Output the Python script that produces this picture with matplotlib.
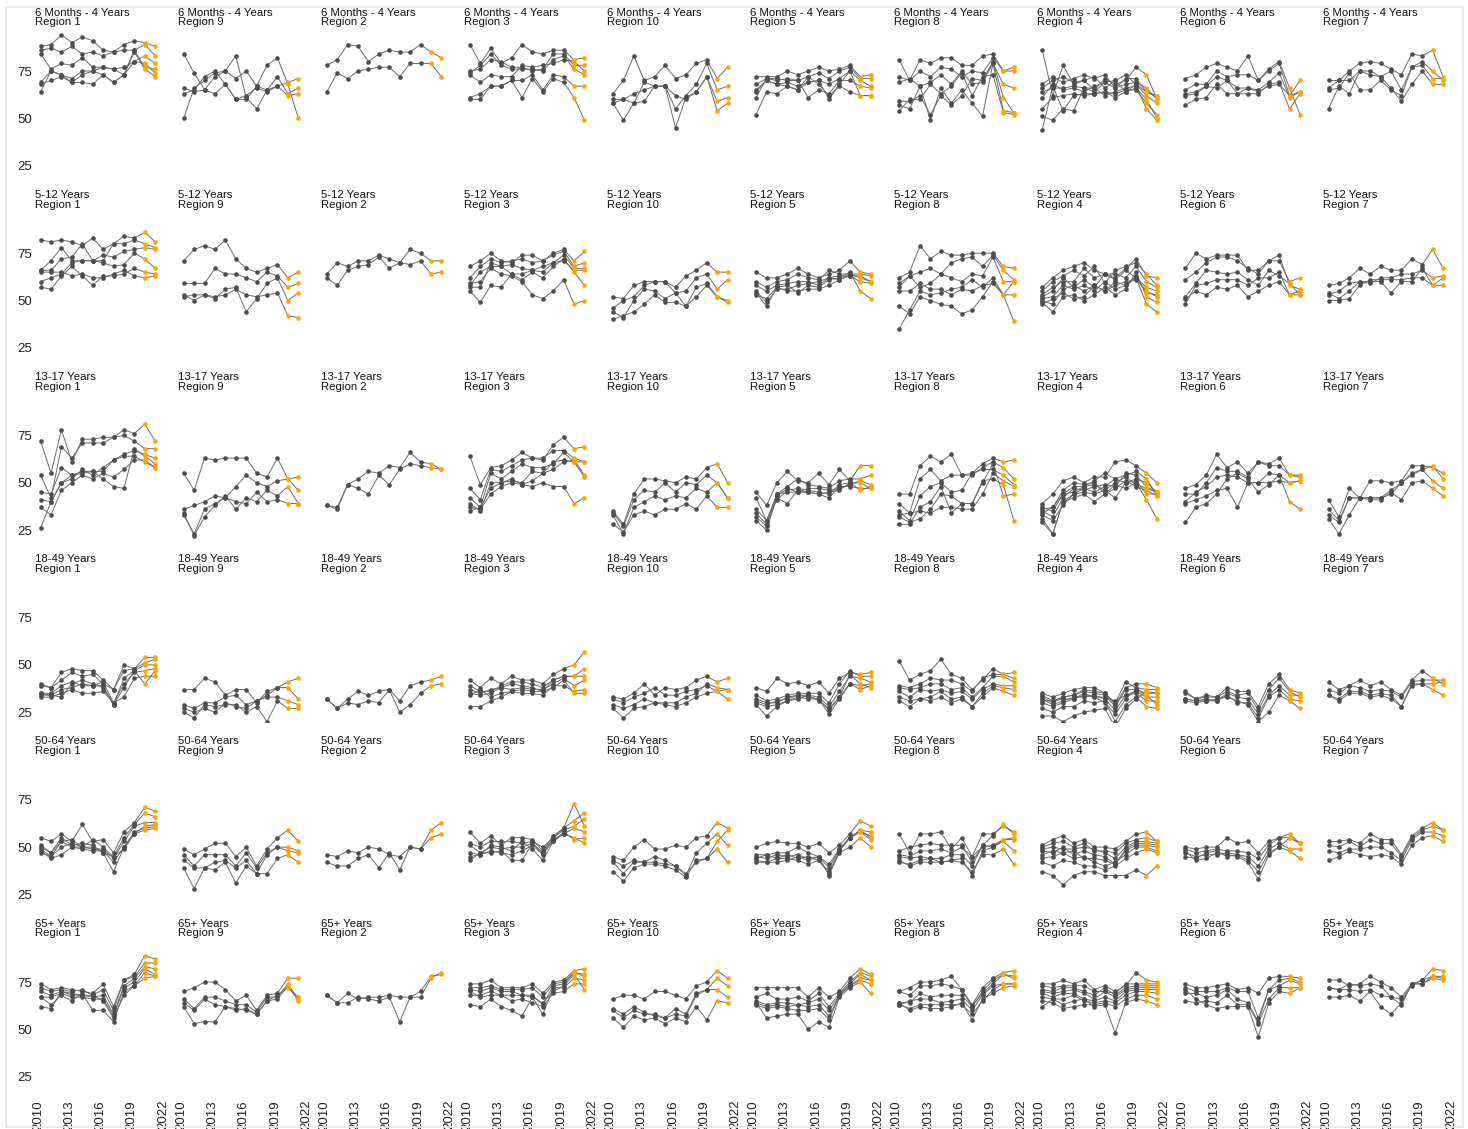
import matplotlib
matplotlib.use("Agg")
import matplotlib.pyplot as plt
from matplotlib.patches import Rectangle
import numpy as np

plt.rcParams['font.family'] = ['Liberation Sans', 'DejaVu Sans']

# flu vaccination coverage (%) by season, one list per state, 2010-11 .. 2021-22
seasons = list(range(2010, 2022))
regions = ["Region 1", "Region 9", "Region 2", "Region 3", "Region 10",
           "Region 5", "Region 8", "Region 4", "Region 6", "Region 7"]
age_groups = ["6 Months - 4 Years", "5-12 Years", "13-17 Years",
              "18-49 Years", "50-64 Years", "65+ Years"]
n_current = 2  # last seasons drawn in orange

cov_6mo_4y = {
    "Region 1": [[88, 89, 94, 90, 93, 91, 86, 85, 89, 91, 90, 88],
                 [86, 87, 85, 88, 84, 85, 83, 85, 86, 86, 89, 83],
                 [84, 76, 79, 78, 82, 77, 77, 76, 77, 80, 83, 79],
                 [69, 75, 73, 71, 75, 75, 73, 69, 73, 80, 79, 74],
                 [64, 75, 73, 69, 73, 75, 77, 76, 73, 86, 77, 76],
                 [68, 70, 72, 69, 69, 68, 73, 69, 73, 85, 76, 72]],
    "Region 9": [[50, 66, 70, 74, 75, 71, 75, 67, 78, 82, 68, 50],
                 [84, 74, 65, 72, 75, 83, 61, 55, 65, 72, 63, 66],
                 [63, 65, 72, 75, 68, 60, 60, 67, 65, 67, 62, 63],
                 [66, 64, 65, 63, 68, 60, 62, 66, 64, 67, 69, 71]],
    "Region 2": [[78, 81, 89, 88, 80, 84, 86, 85, 85, 89, 85, 82],
                 [64, 74, 71, 75, 76, 77, 77, 72, 79, 79, 79, 72]],
    "Region 3": [[89, 79, 87, 79, 82, 89, 85, 84, 86, 86, 81, 82],
                 [75, 76, 81, 80, 77, 77, 75, 76, 84, 84, 78, 78],
                 [74, 78, 84, 78, 76, 76, 76, 75, 81, 83, 76, 73],
                 [73, 69, 73, 72, 72, 78, 77, 78, 79, 81, 80, 75],
                 [61, 63, 67, 67, 70, 61, 71, 64, 71, 69, 61, 49],
                 [60, 60, 67, 67, 70, 70, 73, 65, 73, 72, 67, 67]],
    "Region 10": [[63, 70, 83, 70, 72, 78, 71, 73, 79, 81, 71, 77],
                  [60, 60, 63, 65, 67, 67, 55, 62, 68, 79, 65, 67],
                  [58, 49, 58, 69, 67, 67, 45, 61, 64, 72, 59, 61],
                  [58, 60, 58, 59, 67, 67, 62, 60, 64, 72, 54, 58]],
    "Region 5": [[72, 72, 72, 75, 73, 75, 77, 75, 76, 78, 72, 73],
                 [68, 71, 70, 71, 70, 72, 74, 71, 75, 77, 71, 71],
                 [65, 70, 68, 69, 67, 69, 70, 68, 71, 75, 70, 67],
                 [61, 71, 71, 70, 70, 61, 65, 63, 70, 70, 67, 66],
                 [52, 64, 63, 67, 65, 69, 70, 60, 68, 75, 62, 62],
                 [64, 70, 68, 67, 65, 72, 68, 62, 67, 64, 62, 62]],
    "Region 8": [[81, 70, 81, 79, 82, 82, 78, 78, 83, 84, 75, 77],
                 [72, 70, 75, 72, 77, 76, 72, 75, 74, 82, 75, 75],
                 [69, 71, 67, 69, 73, 68, 75, 68, 69, 79, 68, 66],
                 [59, 59, 62, 52, 62, 57, 62, 71, 70, 80, 61, 53],
                 [57, 55, 67, 49, 66, 58, 65, 58, 51, 79, 54, 53],
                 [54, 60, 60, 68, 63, 67, 74, 62, 72, 73, 53, 52]],
    "Region 4": [[86, 62, 78, 68, 70, 65, 71, 68, 70, 77, 73, 60],
                 [68, 72, 69, 71, 73, 71, 73, 66, 71, 71, 64, 61],
                 [66, 70, 72, 69, 70, 72, 66, 70, 73, 68, 64, 62],
                 [64, 66, 66, 67, 66, 64, 69, 66, 68, 69, 66, 60],
                 [61, 68, 65, 66, 64, 67, 69, 70, 64, 68, 62, 58],
                 [55, 61, 62, 63, 62, 63, 64, 63, 65, 65, 58, 52],
                 [51, 49, 55, 54, 66, 66, 62, 64, 66, 67, 55, 49],
                 [44, 67, 54, 62, 63, 63, 64, 61, 64, 66, 60, 50]],
    "Region 6": [[71, 73, 77, 79, 77, 75, 83, 70, 76, 80, 66, 52],
                 [65, 68, 68, 75, 72, 73, 73, 70, 75, 79, 62, 70],
                 [62, 63, 67, 72, 70, 66, 66, 65, 69, 74, 61, 64],
                 [57, 60, 61, 68, 63, 63, 63, 63, 68, 69, 55, 63],
                 [63, 64, 67, 66, 70, 63, 66, 64, 67, 68, 62, 64]],
    "Region 7": [[70, 70, 75, 79, 80, 79, 76, 73, 84, 83, 86, 72],
                 [66, 70, 70, 75, 75, 72, 75, 65, 77, 80, 75, 70],
                 [65, 66, 74, 65, 65, 70, 65, 62, 77, 78, 71, 71],
                 [55, 67, 63, 75, 73, 72, 66, 59, 68, 75, 68, 68]],
}

cov_5_12 = {
    "Region 1": [[82, 81, 82, 81, 79, 83, 77, 80, 84, 83, 86, 81],
                 [66, 66, 72, 73, 80, 71, 71, 80, 80, 82, 80, 78],
                 [66, 71, 78, 71, 71, 71, 74, 73, 76, 77, 78, 77],
                 [60, 62, 64, 70, 71, 71, 70, 68, 69, 75, 72, 67],
                 [57, 56, 63, 68, 63, 58, 63, 63, 64, 67, 65, 64],
                 [65, 65, 65, 63, 64, 62, 62, 64, 66, 63, 62, 63]],
    "Region 9": [[71, 77, 79, 77, 82, 72, 67, 65, 67, 69, 62, 65],
                 [59, 59, 59, 67, 64, 64, 62, 60, 65, 63, 57, 59],
                 [53, 50, 53, 51, 56, 57, 44, 51, 59, 62, 50, 54],
                 [52, 53, 53, 52, 53, 56, 53, 52, 53, 54, 42, 41]],
    "Region 2": [[64, 70, 68, 71, 71, 74, 72, 70, 77, 75, 71, 71],
                 [62, 58, 66, 68, 69, 73, 67, 70, 69, 71, 64, 65]],
    "Region 3": [[68, 71, 75, 71, 70, 74, 74, 71, 75, 77, 71, 76],
                 [62, 68, 72, 70, 71, 72, 70, 71, 74, 76, 68, 70],
                 [58, 65, 68, 68, 69, 67, 66, 68, 70, 74, 67, 67],
                 [57, 57, 70, 68, 64, 64, 66, 65, 70, 71, 66, 66],
                 [55, 49, 58, 57, 64, 61, 65, 62, 68, 72, 65, 58],
                 [59, 60, 67, 64, 63, 60, 53, 51, 55, 61, 48, 50]],
    "Region 10": [[52, 51, 58, 60, 60, 60, 57, 63, 66, 70, 65, 65],
                  [46, 50, 52, 58, 60, 60, 54, 55, 62, 64, 56, 61],
                  [44, 41, 50, 56, 55, 51, 54, 47, 57, 59, 52, 50],
                  [40, 42, 44, 48, 53, 49, 49, 47, 52, 58, 52, 49]],
    "Region 5": [[65, 62, 62, 64, 67, 64, 62, 64, 66, 71, 65, 64],
                 [60, 57, 60, 61, 64, 62, 61, 66, 64, 64, 64, 63],
                 [58, 55, 58, 59, 60, 60, 58, 62, 63, 63, 63, 60],
                 [55, 49, 56, 56, 58, 59, 60, 62, 61, 64, 62, 60],
                 [53, 51, 57, 55, 55, 56, 56, 58, 61, 63, 60, 59],
                 [54, 47, 57, 58, 54, 58, 57, 61, 62, 65, 55, 51]],
    "Region 8": [[62, 65, 79, 72, 76, 74, 74, 75, 75, 75, 68, 67],
                 [59, 63, 65, 67, 64, 70, 72, 73, 68, 74, 66, 61],
                 [57, 63, 57, 59, 64, 62, 60, 64, 63, 73, 60, 60],
                 [55, 55, 59, 56, 56, 53, 56, 55, 58, 59, 53, 60],
                 [47, 43, 52, 50, 48, 47, 43, 45, 52, 60, 53, 39],
                 [35, 45, 55, 53, 54, 56, 57, 61, 57, 62, 53, 53]],
    "Region 4": [[57, 62, 66, 68, 70, 66, 64, 62, 67, 72, 63, 62],
                 [55, 60, 63, 66, 63, 68, 59, 66, 68, 70, 64, 58],
                 [53, 57, 60, 60, 67, 62, 64, 64, 62, 68, 60, 57],
                 [52, 55, 62, 57, 61, 57, 64, 61, 66, 62, 57, 55],
                 [51, 52, 58, 56, 58, 55, 60, 56, 58, 63, 54, 53],
                 [50, 48, 56, 58, 55, 58, 55, 58, 60, 61, 55, 52],
                 [49, 44, 52, 53, 50, 53, 57, 53, 56, 65, 52, 49],
                 [48, 51, 54, 51, 52, 58, 55, 60, 58, 62, 48, 44]],
    "Region 6": [[67, 75, 72, 74, 74, 74, 66, 66, 71, 71, 60, 62],
                 [61, 65, 70, 73, 73, 71, 67, 64, 71, 74, 58, 56],
                 [52, 59, 66, 65, 64, 65, 61, 58, 66, 63, 59, 53],
                 [48, 58, 59, 61, 61, 61, 58, 62, 62, 65, 53, 53],
                 [51, 55, 53, 57, 56, 58, 52, 55, 58, 60, 53, 55]],
    "Region 7": [[58, 59, 62, 67, 64, 68, 66, 66, 72, 69, 77, 67],
                 [53, 55, 59, 60, 59, 62, 62, 64, 64, 66, 62, 63],
                 [54, 51, 55, 60, 60, 60, 54, 60, 60, 67, 58, 62],
                 [50, 50, 51, 58, 61, 61, 61, 61, 62, 62, 58, 58]],
}

cov_13_17 = {
    "Region 1": [[72, 55, 78, 61, 73, 73, 74, 74, 78, 76, 81, 72],
                 [54, 42, 69, 63, 71, 71, 71, 74, 75, 72, 68, 68],
                 [45, 44, 58, 54, 56, 56, 56, 62, 65, 67, 65, 63],
                 [41, 40, 50, 54, 55, 56, 52, 48, 47, 68, 64, 60],
                 [37, 33, 46, 50, 54, 52, 55, 53, 57, 62, 62, 58],
                 [26, 40, 50, 52, 57, 54, 58, 62, 64, 64, 61, 58]],
    "Region 9": [[55, 46, 63, 62, 63, 63, 63, 55, 53, 63, 52, 53],
                 [36, 38, 40, 43, 42, 48, 54, 50, 48, 51, 52, 46],
                 [34, 22, 32, 38, 43, 36, 42, 40, 46, 43, 48, 39],
                 [33, 23, 36, 39, 42, 40, 39, 45, 40, 41, 39, 39]],
    "Region 2": [[38, 37, 49, 52, 56, 55, 59, 58, 66, 61, 60, 57],
                 [38, 36, 49, 47, 44, 54, 49, 57, 60, 59, 58, 57]],
    "Region 3": [[64, 49, 58, 59, 62, 66, 63, 62, 70, 74, 68, 69],
                 [47, 41, 57, 56, 59, 62, 63, 63, 67, 67, 63, 61],
                 [42, 37, 55, 52, 56, 60, 58, 58, 60, 66, 61, 61],
                 [39, 35, 50, 50, 51, 50, 56, 55, 57, 61, 62, 54],
                 [37, 36, 44, 48, 50, 49, 51, 55, 61, 62, 61, 53],
                 [35, 37, 47, 50, 52, 49, 48, 50, 48, 48, 39, 42]],
    "Region 10": [[35, 28, 44, 52, 52, 51, 50, 53, 52, 58, 60, 50],
                  [34, 27, 41, 46, 45, 50, 45, 50, 49, 54, 50, 42],
                  [33, 23, 37, 40, 43, 41, 43, 42, 47, 45, 50, 42],
                  [28, 24, 33, 35, 33, 36, 36, 39, 36, 43, 37, 37]],
    "Region 5": [[45, 38, 50, 56, 51, 50, 55, 49, 57, 51, 59, 59],
                 [42, 30, 44, 48, 52, 49, 48, 47, 51, 52, 52, 54],
                 [36, 30, 41, 46, 47, 46, 45, 44, 49, 50, 50, 47],
                 [34, 28, 44, 45, 45, 47, 47, 46, 47, 49, 51, 49],
                 [32, 27, 42, 39, 46, 45, 44, 42, 48, 48, 47, 47],
                 [30, 25, 43, 47, 45, 45, 44, 45, 46, 50, 46, 48]],
    "Region 8": [[44, 44, 59, 64, 61, 65, 54, 55, 60, 63, 61, 62],
                 [39, 34, 52, 57, 51, 54, 54, 54, 58, 61, 58, 52],
                 [35, 30, 43, 48, 50, 45, 46, 55, 57, 57, 54, 49],
                 [32, 29, 31, 36, 44, 43, 39, 39, 50, 60, 43, 44],
                 [28, 28, 37, 40, 48, 34, 39, 39, 51, 52, 49, 30],
                 [33, 34, 35, 34, 37, 37, 36, 36, 44, 55, 51, 48]],
    "Region 4": [[39, 44, 51, 53, 50, 53, 53, 61, 62, 59, 55, 50],
                 [37, 35, 44, 48, 48, 51, 55, 52, 54, 56, 52, 43],
                 [35, 32, 42, 47, 46, 48, 49, 48, 55, 54, 48, 45],
                 [33, 30, 38, 44, 45, 44, 46, 42, 50, 51, 44, 44],
                 [31, 23, 40, 42, 44, 40, 44, 49, 47, 50, 41, 31],
                 [36, 37, 46, 50, 49, 50, 44, 47, 51, 48, 46, 43],
                 [29, 23, 40, 44, 47, 45, 48, 52, 50, 52, 50, 45],
                 [34, 37, 44, 45, 48, 49, 46, 50, 53, 49, 47, 45]],
    "Region 6": [[47, 49, 54, 65, 58, 61, 55, 61, 60, 63, 54, 54],
                 [44, 44, 50, 58, 56, 56, 53, 61, 59, 59, 54, 53],
                 [40, 45, 48, 53, 54, 53, 50, 50, 50, 51, 50, 51],
                 [39, 41, 43, 46, 47, 37, 50, 50, 55, 54, 50, 51],
                 [29, 37, 39, 44, 52, 55, 52, 45, 49, 54, 40, 36]],
    "Region 7": [[41, 32, 47, 42, 51, 51, 50, 51, 59, 59, 58, 55],
                 [36, 30, 42, 42, 42, 42, 44, 50, 55, 57, 59, 52],
                 [33, 29, 42, 42, 42, 42, 46, 50, 54, 57, 51, 47],
                 [31, 23, 33, 42, 41, 41, 45, 41, 50, 51, 47, 43]],
}

cov_18_49 = {
    "Region 1": [[40, 38, 46, 48, 47, 47, 42, 37, 50, 48, 54, 54],
                 [39, 38, 42, 46, 44, 45, 40, 37, 47, 48, 51, 53],
                 [35, 35, 39, 41, 39, 39, 39, 29, 43, 47, 50, 50],
                 [34, 34, 37, 38, 40, 39, 41, 30, 40, 46, 47, 48],
                 [33, 33, 35, 37, 35, 35, 36, 30, 33, 43, 44, 44],
                 [35, 34, 33, 40, 42, 40, 38, 29, 38, 47, 40, 47]],
    "Region 9": [[37, 37, 43, 41, 34, 37, 37, 30, 36, 38, 41, 43],
                 [29, 27, 30, 30, 33, 34, 29, 31, 34, 38, 38, 32],
                 [27, 25, 27, 25, 30, 28, 27, 31, 33, 33, 31, 29],
                 [25, 22, 29, 28, 29, 29, 25, 28, 20, 31, 27, 27]],
    "Region 2": [[32, 27, 32, 36, 34, 36, 37, 31, 39, 41, 42, 44],
                 [32, 27, 30, 29, 31, 30, 37, 25, 29, 35, 39, 40]],
    "Region 3": [[42, 38, 43, 40, 44, 42, 42, 40, 45, 48, 50, 57],
                 [39, 36, 36, 39, 41, 41, 40, 38, 42, 44, 44, 48],
                 [37, 35, 37, 38, 40, 39, 38, 36, 42, 44, 44, 44],
                 [35, 34, 35, 38, 37, 38, 37, 37, 40, 43, 39, 42],
                 [34, 37, 33, 35, 36, 35, 35, 34, 39, 39, 36, 37],
                 [28, 28, 31, 33, 36, 37, 36, 36, 38, 42, 35, 35]],
    "Region 10": [[33, 32, 35, 40, 34, 38, 37, 38, 42, 44, 41, 43],
                  [32, 30, 33, 35, 38, 34, 34, 36, 37, 39, 36, 37],
                  [29, 27, 29, 32, 30, 30, 30, 33, 35, 40, 38, 37],
                  [27, 22, 27, 28, 30, 29, 28, 30, 33, 35, 36, 32]],
    "Region 5": [[38, 36, 43, 40, 41, 39, 41, 35, 43, 46, 45, 46],
                 [34, 31, 32, 34, 35, 35, 35, 30, 40, 47, 44, 44],
                 [32, 30, 30, 33, 34, 34, 33, 28, 36, 44, 43, 41],
                 [31, 29, 31, 32, 34, 33, 32, 26, 33, 40, 39, 40],
                 [30, 28, 29, 31, 33, 32, 32, 24, 32, 40, 37, 39],
                 [29, 23, 28, 31, 32, 34, 31, 27, 33, 45, 40, 38]],
    "Region 8": [[52, 42, 45, 47, 53, 45, 43, 37, 42, 48, 45, 46],
                 [39, 38, 40, 43, 42, 42, 40, 36, 43, 45, 45, 43],
                 [38, 37, 38, 40, 40, 37, 38, 33, 38, 44, 44, 41],
                 [36, 33, 37, 36, 37, 35, 36, 32, 37, 40, 39, 39],
                 [31, 28, 32, 31, 33, 30, 32, 28, 33, 38, 36, 34],
                 [33, 31, 32, 33, 36, 32, 33, 28, 35, 39, 38, 37]],
    "Region 4": [[35, 33, 35, 37, 38, 38, 35, 30, 41, 38, 37, 37],
                 [34, 31, 33, 34, 37, 36, 35, 29, 38, 40, 40, 38],
                 [33, 30, 33, 34, 36, 35, 34, 28, 37, 37, 35, 35],
                 [32, 29, 31, 33, 33, 34, 32, 26, 34, 36, 33, 33],
                 [31, 31, 32, 32, 35, 33, 33, 31, 34, 35, 31, 31],
                 [30, 28, 30, 32, 34, 33, 30, 24, 32, 37, 34, 29],
                 [27, 25, 28, 28, 31, 30, 31, 20, 29, 33, 28, 27],
                 [23, 23, 20, 23, 25, 26, 27, 17, 27, 32, 36, 35]],
    "Region 6": [[36, 32, 34, 33, 38, 36, 36, 28, 40, 45, 37, 35],
                 [35, 32, 33, 33, 36, 34, 35, 26, 37, 43, 36, 33],
                 [32, 31, 31, 31, 35, 33, 32, 24, 34, 39, 34, 34],
                 [32, 31, 32, 31, 34, 30, 30, 22, 33, 37, 32, 31],
                 [31, 30, 31, 32, 33, 31, 29, 20, 25, 34, 31, 27]],
    "Region 7": [[41, 37, 39, 42, 39, 41, 37, 34, 42, 47, 43, 40],
                 [37, 35, 39, 38, 36, 37, 36, 33, 41, 42, 42, 42],
                 [34, 32, 36, 36, 34, 35, 34, 28, 40, 40, 40, 41],
                 [34, 31, 35, 35, 33, 34, 32, 28, 39, 40, 37, 34]],
}

cov_50_64 = {
    "Region 1": [[55, 53, 57, 53, 62, 53, 54, 47, 58, 63, 71, 69],
                 [51, 47, 53, 54, 50, 54, 50, 45, 55, 62, 68, 66],
                 [49, 45, 50, 52, 50, 49, 49, 44, 53, 61, 63, 63],
                 [48, 44, 46, 50, 49, 48, 48, 42, 50, 57, 61, 62],
                 [47, 45, 53, 50, 50, 50, 47, 37, 50, 58, 60, 61],
                 [50, 47, 55, 51, 52, 51, 47, 45, 49, 57, 59, 60]],
    "Region 9": [[49, 46, 49, 52, 52, 45, 50, 40, 49, 55, 59, 53],
                 [46, 40, 46, 46, 46, 40, 47, 39, 47, 50, 50, 48],
                 [43, 39, 39, 42, 43, 39, 43, 36, 46, 50, 48, 47],
                 [39, 28, 39, 38, 42, 31, 40, 36, 36, 44, 46, 42]],
    "Region 2": [[46, 45, 48, 47, 50, 49, 46, 45, 50, 49, 59, 63],
                 [42, 40, 40, 44, 46, 39, 47, 38, 50, 49, 55, 57]],
    "Region 3": [[58, 52, 56, 51, 55, 55, 54, 48, 56, 60, 73, 61],
                 [52, 50, 53, 53, 53, 52, 53, 50, 55, 60, 64, 68],
                 [51, 47, 50, 49, 50, 50, 52, 47, 55, 59, 61, 65],
                 [47, 46, 48, 47, 46, 48, 51, 46, 54, 57, 60, 58],
                 [45, 46, 51, 50, 48, 53, 49, 43, 53, 58, 54, 55],
                 [43, 47, 47, 48, 43, 43, 52, 47, 53, 57, 55, 52]],
    "Region 10": [[45, 43, 50, 54, 49, 49, 51, 50, 55, 56, 63, 60],
                  [43, 40, 43, 42, 45, 43, 40, 35, 47, 52, 57, 51],
                  [42, 36, 42, 42, 42, 41, 40, 36, 42, 44, 53, 59],
                  [37, 32, 39, 41, 41, 40, 38, 34, 43, 44, 49, 42]],
    "Region 5": [[50, 52, 53, 52, 52, 50, 52, 47, 51, 57, 64, 61],
                 [46, 46, 47, 47, 50, 47, 45, 41, 49, 55, 59, 58],
                 [45, 44, 46, 45, 46, 44, 45, 39, 49, 55, 59, 55],
                 [44, 46, 44, 46, 44, 45, 43, 37, 48, 55, 58, 54],
                 [43, 42, 42, 43, 45, 43, 45, 35, 48, 55, 58, 56],
                 [42, 42, 44, 44, 43, 41, 43, 36, 47, 50, 55, 50]],
    "Region 8": [[57, 47, 57, 57, 58, 49, 55, 45, 57, 57, 61, 58],
                 [48, 50, 51, 52, 51, 51, 51, 42, 51, 56, 62, 57],
                 [46, 45, 48, 48, 49, 47, 50, 45, 50, 51, 54, 54],
                 [45, 44, 45, 44, 44, 46, 46, 40, 51, 50, 54, 55],
                 [43, 40, 42, 42, 42, 43, 44, 35, 48, 50, 53, 48],
                 [42, 41, 43, 44, 42, 43, 42, 37, 46, 46, 49, 41]],
    "Region 4": [[51, 54, 56, 52, 54, 50, 50, 49, 53, 57, 58, 53],
                 [50, 52, 53, 50, 52, 48, 48, 47, 52, 54, 55, 53],
                 [49, 50, 49, 49, 50, 49, 47, 44, 50, 53, 53, 52],
                 [48, 47, 50, 46, 48, 46, 45, 41, 49, 52, 52, 51],
                 [46, 48, 47, 48, 44, 44, 43, 41, 48, 51, 51, 50],
                 [44, 45, 47, 44, 45, 42, 40, 42, 46, 50, 50, 48],
                 [42, 40, 43, 42, 40, 40, 38, 40, 44, 47, 49, 47],
                 [37, 35, 30, 35, 37, 37, 35, 35, 35, 38, 35, 40]],
    "Region 6": [[50, 49, 50, 50, 55, 52, 53, 47, 53, 55, 57, 52],
                 [49, 47, 48, 49, 48, 48, 47, 44, 51, 55, 55, 52],
                 [47, 45, 46, 46, 47, 46, 45, 40, 49, 52, 49, 49],
                 [45, 44, 47, 48, 45, 46, 43, 37, 47, 50, 48, 44],
                 [48, 43, 44, 47, 46, 45, 42, 33, 46, 50, 55, 52]],
    "Region 7": [[53, 53, 54, 52, 57, 54, 54, 46, 56, 60, 63, 59],
                 [51, 50, 53, 50, 54, 52, 52, 45, 55, 59, 61, 59],
                 [48, 47, 49, 49, 50, 50, 47, 43, 54, 58, 58, 56],
                 [43, 45, 48, 46, 45, 46, 45, 41, 51, 55, 56, 53]],
}

cov_65_plus = {
    "Region 1": [[74, 71, 72, 71, 70, 69, 74, 62, 76, 79, 89, 87],
                 [72, 70, 71, 70, 71, 68, 71, 60, 76, 78, 85, 85],
                 [70, 68, 70, 69, 68, 67, 68, 58, 73, 77, 83, 82],
                 [67, 67, 69, 67, 67, 66, 66, 57, 72, 75, 82, 79],
                 [67, 63, 68, 65, 69, 60, 60, 54, 70, 73, 80, 78],
                 [62, 61, 70, 68, 68, 68, 65, 56, 68, 73, 77, 78]],
    "Region 9": [[70, 72, 75, 75, 71, 65, 68, 60, 68, 69, 77, 77],
                 [66, 61, 67, 67, 65, 63, 63, 59, 67, 67, 74, 66],
                 [64, 60, 66, 63, 62, 60, 61, 58, 65, 68, 72, 67],
                 [62, 53, 54, 54, 62, 61, 60, 58, 65, 66, 73, 65]],
    "Region 2": [[68, 64, 69, 66, 67, 67, 68, 67, 67, 70, 78, 79],
                 [68, 64, 64, 67, 66, 65, 67, 54, 67, 67, 77, 80]],
    "Region 3": [[74, 74, 76, 72, 72, 72, 74, 69, 75, 76, 81, 82],
                 [72, 72, 73, 71, 71, 71, 72, 67, 74, 75, 80, 79],
                 [71, 70, 72, 70, 70, 68, 68, 63, 73, 74, 80, 78],
                 [68, 68, 70, 68, 68, 68, 67, 58, 72, 72, 77, 76],
                 [63, 62, 66, 62, 60, 57, 67, 64, 70, 73, 79, 71],
                 [70, 67, 68, 68, 65, 66, 64, 62, 69, 70, 74, 74]],
    "Region 10": [[66, 68, 68, 66, 70, 70, 68, 66, 73, 75, 81, 77],
                  [61, 58, 62, 59, 57, 56, 61, 58, 69, 71, 77, 73],
                  [60, 56, 60, 58, 58, 56, 58, 57, 68, 71, 71, 67],
                  [56, 51, 57, 55, 56, 53, 56, 54, 62, 55, 65, 64]],
    "Region 5": [[72, 72, 72, 72, 72, 67, 72, 67, 70, 77, 82, 79],
                 [67, 69, 66, 66, 67, 65, 69, 62, 69, 75, 80, 78],
                 [65, 63, 64, 64, 63, 64, 66, 60, 68, 74, 79, 76],
                 [64, 62, 63, 62, 63, 62, 63, 57, 68, 73, 77, 76],
                 [63, 61, 62, 61, 60, 60, 61, 55, 68, 73, 76, 74],
                 [64, 56, 57, 58, 58, 50, 54, 51, 67, 72, 75, 69]],
    "Region 8": [[70, 72, 75, 75, 76, 78, 71, 63, 72, 77, 80, 81],
                 [70, 68, 73, 73, 74, 73, 71, 62, 70, 76, 79, 78],
                 [64, 64, 69, 67, 68, 68, 68, 62, 69, 74, 79, 77],
                 [63, 65, 66, 66, 64, 65, 66, 60, 68, 73, 74, 74],
                 [63, 61, 63, 63, 63, 63, 63, 58, 65, 71, 74, 74],
                 [64, 60, 62, 61, 61, 62, 64, 55, 66, 69, 72, 73]],
    "Region 4": [[74, 74, 76, 74, 76, 71, 73, 70, 73, 80, 76, 75],
                 [73, 72, 73, 73, 73, 70, 70, 69, 74, 74, 74, 74],
                 [71, 70, 72, 72, 70, 68, 72, 68, 72, 73, 73, 73],
                 [70, 69, 70, 71, 69, 66, 70, 67, 71, 72, 72, 72],
                 [69, 67, 69, 69, 66, 65, 67, 65, 70, 71, 71, 71],
                 [67, 66, 66, 68, 65, 64, 65, 64, 68, 70, 70, 69],
                 [65, 64, 61, 62, 63, 63, 64, 62, 66, 68, 68, 66],
                 [62, 66, 63, 65, 66, 62, 63, 48, 64, 66, 65, 63]],
    "Region 6": [[74, 72, 72, 73, 74, 71, 72, 69, 77, 78, 78, 77],
                 [72, 70, 70, 70, 72, 70, 70, 56, 71, 76, 77, 75],
                 [69, 69, 67, 68, 71, 66, 64, 54, 71, 73, 76, 74],
                 [65, 64, 65, 64, 68, 63, 63, 53, 66, 72, 72, 72],
                 [71, 66, 63, 61, 62, 62, 62, 46, 64, 70, 69, 72]],
    "Region 7": [[76, 76, 73, 74, 78, 75, 72, 67, 74, 76, 82, 81],
                 [72, 71, 74, 73, 74, 73, 67, 66, 73, 76, 78, 78],
                 [72, 71, 71, 70, 71, 68, 67, 63, 74, 74, 78, 77],
                 [67, 67, 68, 65, 70, 62, 58, 64, 74, 74, 77, 76]],
}

age_data = [cov_6mo_4y, cov_5_12, cov_13_17, cov_18_49, cov_50_64, cov_65_plus]

W, H = 1468, 1129
fig = plt.figure(figsize=(W / 100, H / 100), dpi=100)

# panel grid in pixels
x0, col_step, ax_w = 38, 143.1, 125
y0, row_step, ax_h = 23.7, 182.2, 151.4

x = np.array(seasons) + 0.25
line_col = '#6b6b6b'
dot_col = '#4d4d4d'
cur_col = '#FFA500'

for r, (age, data) in enumerate(zip(age_groups, age_data)):
    for c, reg in enumerate(regions):
        left = (x0 + col_step * c) / W
        bottom = 1 - (y0 + row_step * r + ax_h) / H
        ax = fig.add_axes([left, bottom, ax_w / W, ax_h / H])
        for vals in data[reg]:
            v = np.array(vals, dtype=float)
            ax.plot(x, v, color=line_col, lw=0.7, zorder=1)
            ax.plot(x[:-n_current], v[:-n_current], 'o', ms=3.3, color=dot_col,
                    mec='none', zorder=2)
            ax.plot(x[-n_current:], v[-n_current:], 'o', ms=3.3, color=cur_col,
                    mec='none', zorder=3)
        ax.set_xlim(2010, 2022)
        ax.set_ylim(20, 100)
        for s in ax.spines.values():
            s.set_visible(False)
        ax.tick_params(length=0, labelsize=9.5, colors='#222222')
        ax.set_yticks([25, 50, 75])
        ax.set_xticks([2010, 2013, 2016, 2019, 2022])
        if c != 0:
            ax.set_yticklabels([])
        if r != len(age_groups) - 1:
            ax.set_xticklabels([])
        else:
            ax.set_xticklabels(['2010', '2013', '2016', '2019', '2022'], rotation=90)
            ax.tick_params(axis='x', pad=10)
        ax.tick_params(axis='y', pad=4)
        ax.set_facecolor('none')
        # two-line facet title
        fig.text((x0 + col_step * c - 3) / W, 1 - (y0 + row_step * r - 16) / H,
                 age + "\n" + reg, ha='left', va='top', fontsize=8.2,
                 linespacing=0.95, color='#111111')

# light outer frame
fig.patches.append(Rectangle((6 / W, 1 - 1127 / H), 1457 / W, 1120 / H,
                             transform=fig.transFigure, fill=False,
                             edgecolor='#e6e6e6', lw=1.2))

fig.savefig('out.png', dpi=100)
